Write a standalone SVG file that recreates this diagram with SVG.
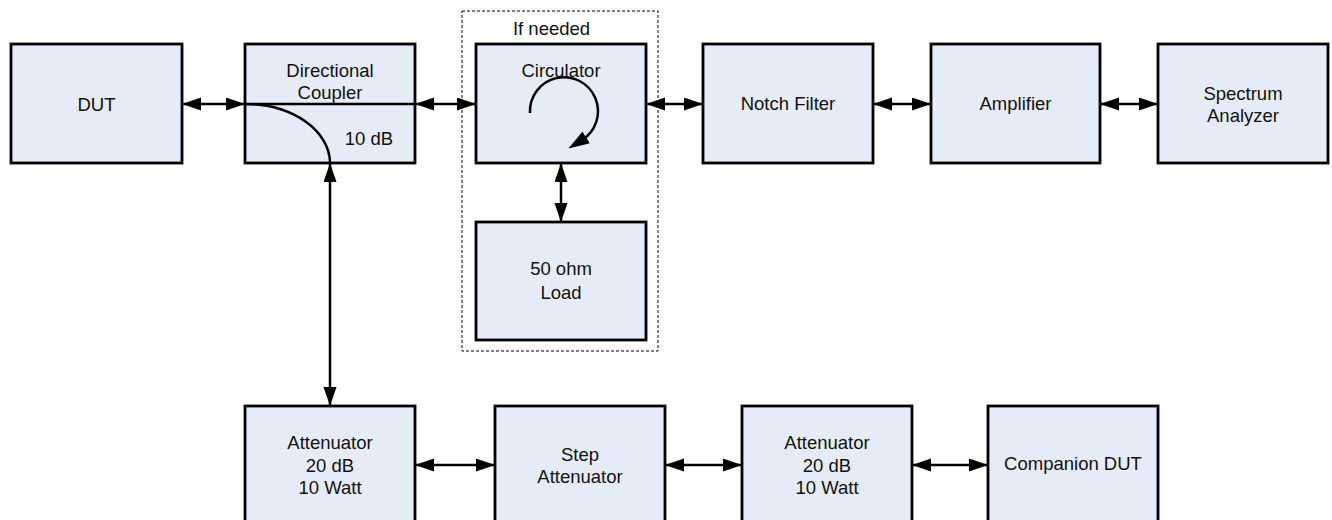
<svg xmlns="http://www.w3.org/2000/svg" width="1332" height="520" viewBox="0 0 1332 520">
<style>
.box{fill:#E6ECF7;stroke:#000;stroke-width:2.8}
.lbl{font-family:"Liberation Sans",Arial,sans-serif;font-size:18.5px;fill:#111;text-anchor:middle}
.con{stroke:#000;stroke-width:2.5;fill:none}
.arr{marker-start:url(#ah);marker-end:url(#ah)}
</style>
<defs>
<marker id="ah" markerUnits="userSpaceOnUse" markerWidth="21" markerHeight="14" refX="19" refY="6.5" orient="auto-start-reverse">
<path d="M0,0 L19,6.5 L0,13 z" fill="#000"/>
</marker>
<marker id="ah2" markerUnits="userSpaceOnUse" markerWidth="22" markerHeight="15" refX="5" refY="7" orient="auto">
<path d="M0,0 L21,7 L0,14 z" fill="#000"/>
</marker>
</defs>
<rect x="462" y="11" width="196" height="340" fill="none" stroke="#000" stroke-width="1" stroke-dasharray="3,2"/>
<text class="lbl" x="551.5" y="34.5">If needed</text>
<g id="dut"><rect class="box" x="11" y="44" width="171" height="119"/><text class="lbl" x="96.5" y="110.5">DUT</text></g>
<g id="coupler"><rect class="box" x="245" y="44" width="170" height="119"/><text class="lbl" x="330" y="76.5">Directional</text><text class="lbl" x="330" y="98.5">Coupler</text><text class="lbl" x="369" y="144.5">10 dB</text></g>
<g id="circulator"><rect class="box" x="476" y="44" width="170" height="119"/><text class="lbl" x="561" y="76.5">Circulator</text><path class="con" d="M530,113 A34,34 0 1 1 582,140" marker-end="url(#ah2)" stroke-width="2.8"/></g>
<g id="load"><rect class="box" x="476" y="222" width="170" height="118"/><text class="lbl" x="561" y="274.5">50 ohm</text><text class="lbl" x="561" y="298.5">Load</text></g>
<g id="notch"><rect class="box" x="703" y="44" width="170" height="119"/><text class="lbl" x="788" y="110">Notch Filter</text></g>
<g id="amp"><rect class="box" x="931" y="44" width="169" height="119"/><text class="lbl" x="1015.5" y="110">Amplifier</text></g>
<g id="spectrum"><rect class="box" x="1158" y="44" width="170" height="119"/><text class="lbl" x="1243" y="99.5">Spectrum</text><text class="lbl" x="1243" y="121.5">Analyzer</text></g>
<g id="att1"><rect class="box" x="245" y="406" width="170" height="119"/><text class="lbl" x="330" y="449">Attenuator</text><text class="lbl" x="330" y="471.5">20 dB</text><text class="lbl" x="330" y="494">10 Watt</text></g>
<g id="step"><rect class="box" x="495" y="406" width="170" height="119"/><text class="lbl" x="580" y="460.5">Step</text><text class="lbl" x="580" y="482.5">Attenuator</text></g>
<g id="att2"><rect class="box" x="742" y="406" width="170" height="119"/><text class="lbl" x="827" y="449">Attenuator</text><text class="lbl" x="827" y="471.5">20 dB</text><text class="lbl" x="827" y="494">10 Watt</text></g>
<g id="companion"><rect class="box" x="988" y="406" width="170" height="119"/><text class="lbl" x="1073" y="470">Companion DUT</text></g>
<g id="connectors">
<line class="con" x1="245" y1="104" x2="415" y2="104"/>
<path class="con" d="M245,104 A85,59 0 0 1 330,163" stroke-width="2.8"/>
<line class="con arr" x1="182" y1="104" x2="245" y2="104"/>
<line class="con arr" x1="415" y1="104" x2="476" y2="104"/>
<line class="con arr" x1="646" y1="104" x2="703" y2="104"/>
<line class="con arr" x1="873" y1="104" x2="931" y2="104"/>
<line class="con arr" x1="1100" y1="104" x2="1158" y2="104"/>
<line class="con arr" x1="561" y1="163" x2="561" y2="222"/>
<line class="con arr" x1="330" y1="163" x2="330" y2="406"/>
<line class="con arr" x1="415" y1="465" x2="495" y2="465"/>
<line class="con arr" x1="665" y1="465" x2="742" y2="465"/>
<line class="con arr" x1="912" y1="465" x2="988" y2="465"/>
</g>
</svg>
